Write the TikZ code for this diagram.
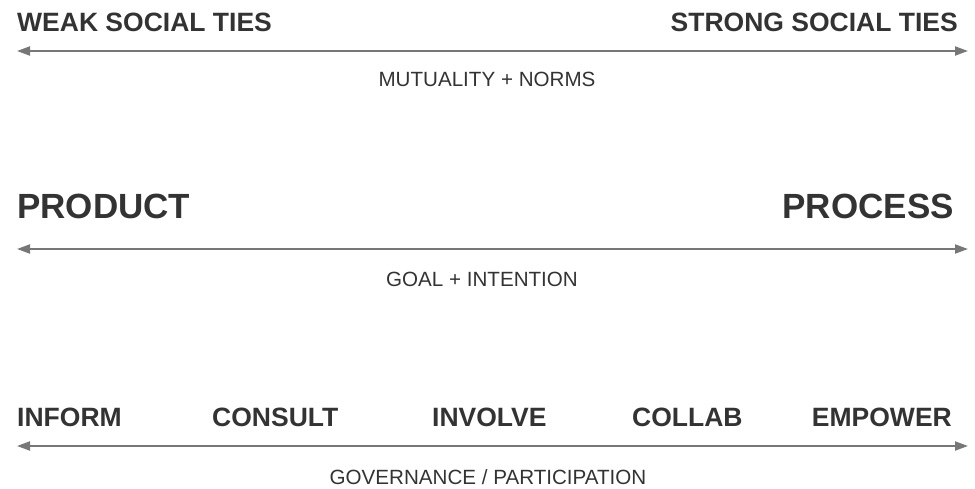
\documentclass[tikz,border=0pt]{standalone}
\usepackage{fontspec}
\setmainfont{Liberation Sans}
\usetikzlibrary{arrows.meta}
\definecolor{txt}{HTML}{333333}
\definecolor{arr}{HTML}{777777}
\begin{document}
\begin{tikzpicture}[x=1pt,y=-1pt,
  big/.style={inner sep=0pt,text=txt,font=\fontsize{26.5}{30}\selectfont\bfseries},
  huge/.style={inner sep=0pt,text=txt,font=\fontsize{35}{40}\selectfont\bfseries},
  small/.style={inner sep=0pt,text=txt,font=\fontsize{20.6}{24}\selectfont},
  axis/.style={draw=arr,line width=2pt,{Triangle[length=13pt,width=9pt]}-{Triangle[length=13pt,width=9pt]}}]
\useasboundingbox (0,0) rectangle (975,489);
% row 1
\node[big,anchor=base west] (weak) at (17,31.5) {WEAK SOCIAL TIES};
\node[big,anchor=base east] (strong) at (958,31.5) {STRONG SOCIAL TIES};
\coordinate (a1l) at (17,51);
\coordinate (a1r) at (968,51);
\draw[axis] (a1l) -- (a1r);
\node[small,anchor=base] (mut) at (487,87) {MUTUALITY + NORMS};
% row 2
\node[huge,anchor=base west] (prod) at (17,219) {PRODUCT};
\node[huge,anchor=base east] (proc) at (954,219) {PROCESS};
\coordinate (a2l) at (17,249);
\coordinate (a2r) at (968,249);
\draw[axis] (a2l) -- (a2r);
\node[small,anchor=base] (goal) at (482,287) {GOAL + INTENTION};
% row 3
\node[big,anchor=base west] (inform) at (17,426) {INFORM};
\node[big,anchor=base west] (consult) at (212,426) {CONSULT};
\node[big,anchor=base west] (involve) at (432,426) {INVOLVE};
\node[big,anchor=base west] (collab) at (632,426) {COLLAB};
\node[big,anchor=base east] (empower) at (952,426) {EMPOWER};
\coordinate (a3l) at (17,446);
\coordinate (a3r) at (968,446);
\draw[axis] (a3l) -- (a3r);
\node[small,anchor=base] (gov) at (488,484) {GOVERNANCE / PARTICIPATION};
\end{tikzpicture}
\end{document}
